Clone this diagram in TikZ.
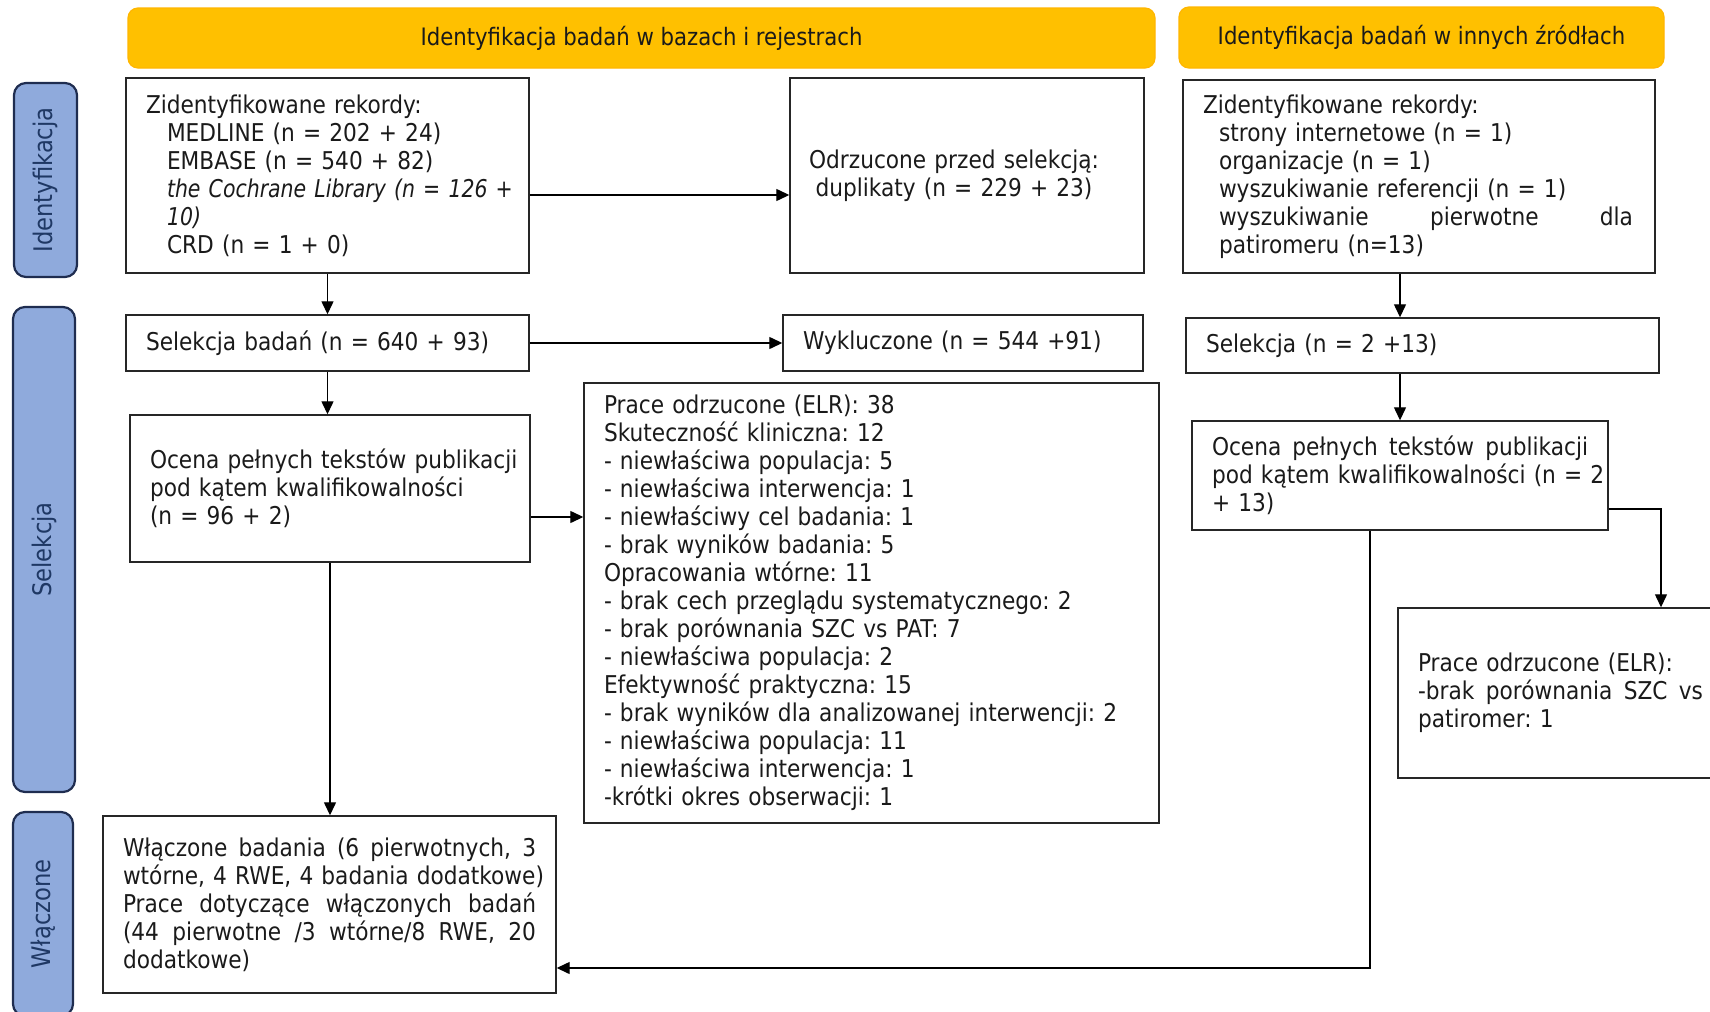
\documentclass[tikz,border=0pt]{standalone}
\usepackage{fontspec}
\setmainfont{DejaVu Sans}[FakeStretch=0.885]
\newfontfamily\narrowfam{DejaVu Sans}[FakeStretch=0.835]
\usetikzlibrary{arrows.meta,calc}
\definecolor{bannerfill}{HTML}{FFC000}
\definecolor{labfill}{HTML}{8FAADC}
\definecolor{labdraw}{HTML}{1F2D50}
\definecolor{labtext}{HTML}{1F3864}
\definecolor{txt}{HTML}{1A1A1A}
\newcommand{\jl}[2]{\makebox[#1][s]{#2}}
\begin{document}
\frenchspacing
\begin{tikzpicture}[x=0.5pt,y=-0.5pt,
  box/.style={draw=black!85, line width=0.7pt, fill=white, inner xsep=10pt, inner ysep=0pt,
    font=\fontsize{12.25}{14}\selectfont\frenchspacing, text=txt, align=left, anchor=center},
  banner/.style={fill=bannerfill, draw=bannerfill!85!orange, line width=0.6pt, rounded corners=5pt,
    font=\fontsize{12}{14}\selectfont, text=txt, inner sep=0pt},
  lab/.style={fill=labfill, draw=labdraw, line width=1.1pt, rounded corners=6pt, rotate=90,
    font=\fontsize{12.8}{14}\selectfont, text=labtext, inner sep=0pt},
  arr/.style={draw=black, line width=0.65pt, -{Triangle[length=6.5pt,width=6pt]}},
  ln/.style={draw=black, line width=0.65pt}
]
\useasboundingbox (0,0) rectangle (1710,1012);
\clip (0,0) rectangle (1710,1012);

% banners
\node[banner, minimum width=513.5pt, minimum height=30pt] (ban1) at (641.5,38) {Identyfikacja badań w bazach i rejestrach};
\node[banner, minimum width=242.5pt, minimum height=30.5pt] (ban2) at (1421.5,37.5) {Identyfikacja badań w innych źródłach};

% side labels
\node[lab, minimum width=97pt, minimum height=31.5pt] (lab1) at (45.5,180) {Identyfikacja};
\node[lab, minimum width=242.5pt, minimum height=31pt] (lab2) at (44,549.5) {Selekcja};
\node[lab, minimum width=102pt, minimum height=30pt] (lab3) at (43,914) {Włączone};

% left column
\node[box, text width=181.5pt, minimum height=97.5pt] (box1) at (327.5,175.5)
 {Zidentyfikowane rekordy:\\
  \hspace*{10.5pt}MEDLINE (n = 202 + 24)\\
  \hspace*{10.5pt}EMBASE (n = 540 + 82)\\
  \hspace*{10.5pt}\mbox{\narrowfam\itshape the Cochrane Library (n = 126 +}\\
  \hspace*{10.5pt}{\narrowfam\itshape 10)}\\
  \hspace*{10.5pt}CRD (n = 1 + 0)};
\node[box, text width=157pt, minimum height=97.5pt] (odr) at (967,175.5)
 {\makebox[157pt]{Odrzucone przed selekcją:\hspace{13pt}}\\
  \makebox[157pt]{duplikaty (n = 229 + 23)\hspace{13pt}}};
\node[box, text width=181.5pt, minimum height=28pt] (sel1) at (327.5,343)
 {Selekcja badań (n = 640 + 93)};
\node[box, text width=160pt, minimum height=28pt] (wyk) at (963,343)
 {Wykluczone (n = 544 +91)};
\node[box, text width=180pt, minimum height=73.5pt] (oc1) at (330,488.5)
 {\mbox{Ocena pełnych tekstów publikacji}\\pod kątem kwalifikowalności\\(n = 96 + 2)};
\node[box, text width=267.5pt, minimum height=220pt] (elr) at (871.5,603)
 {Prace odrzucone (ELR): 38\\
  Skuteczność kliniczna: 12\\
  - niewłaściwa populacja: 5\\
  - niewłaściwa interwencja: 1\\
  - niewłaściwy cel badania: 1\\
  - brak wyników badania: 5\\
  Opracowania wtórne: 11\\
  - brak cech przeglądu systematycznego: 2\\
  - brak porównania SZC vs PAT: 7\\
  - niewłaściwa populacja: 2\\
  Efektywność praktyczna: 15\\
  \mbox{- brak wyników dla analizowanej interwencji: 2}\\
  - niewłaściwa populacja: 11\\
  - niewłaściwa interwencja: 1\\
  -krótki okres obserwacji: 1};
\node[box, text width=206.5pt, minimum height=88.5pt] (incl) at (329.5,904.5)
 {\jl{206.5pt}{Włączone\hfill badania\hfill (6\hfill pierwotnych,\hfill 3}\\
  \jl{206.5pt}{wtórne, 4 RWE, 4 badania dodatkowe)}\\
  \jl{206.5pt}{Prace\hfill dotyczące\hfill włączonych\hfill badań}\\
  \jl{206.5pt}{(44\hfill pierwotne\hfill /3\hfill wtórne/8\hfill RWE,\hfill 20}\\
  dodatkowe)};

% right column
\node[box, text width=216pt, minimum height=96.5pt] (r1) at (1419,176.5)
 {Zidentyfikowane rekordy:\\
  \hspace*{8pt}strony internetowe (n = 1)\\
  \hspace*{8pt}organizacje (n = 1)\\
  \hspace*{8pt}wyszukiwanie referencji (n = 1)\\
  \hspace*{8pt}\jl{207pt}{wyszukiwanie\hfill pierwotne\hfill dla}\\
  \hspace*{8pt}patiromeru (n=13)};
\node[box, text width=216.5pt, minimum height=27.5pt] (rsel) at (1422.5,345.5)
 {Selekcja (n = 2 +13)};
\node[box, text width=188pt, minimum height=54.5pt] (roc) at (1400,475.5)
 {\jl{188pt}{Ocena\hfill pełnych\hfill tekstów\hfill publikacji}\\
  \jl{188pt}{pod kątem kwalifikowalności (n = 2}\\
  + 13)};
\node[box, text width=142.5pt, minimum height=85pt] (elr2) at (1560.5,693)
 {Prace odrzucone (ELR):\\
  \jl{142.5pt}{-brak\hfill porównania\hfill SZC\hfill vs}\\
  patiromer: 1};

% connectors
\draw[arr] ([yshift=-9.75pt]box1.east) -- ([yshift=-9.75pt]odr.west);
\draw[arr] (box1.south) -- (box1.south |- sel1.north);
\draw[arr] (sel1.east) -- (wyk.west);
\draw[arr] (sel1.south) -- (sel1.south |- oc1.north);
\draw[arr] ([yshift=-14.25pt]oc1.east) -- ([yshift=-14.25pt]oc1.east -| elr.west);
\draw[arr] (oc1.south) -- (oc1.south |- incl.north);
\draw[arr] ([xshift=-9.5pt]r1.south) -- ([xshift=-9.5pt]r1.south |- rsel.north);
\draw[arr] (rsel.south -| roc.north) -- (roc.north);
\draw[arr] ([yshift=-16.75pt]roc.east) -| ([xshift=50.25pt]elr2.north);
\draw[arr] ([xshift=-15pt]roc.south) |- ([yshift=-31.75pt]incl.east);
\end{tikzpicture}
\end{document}
